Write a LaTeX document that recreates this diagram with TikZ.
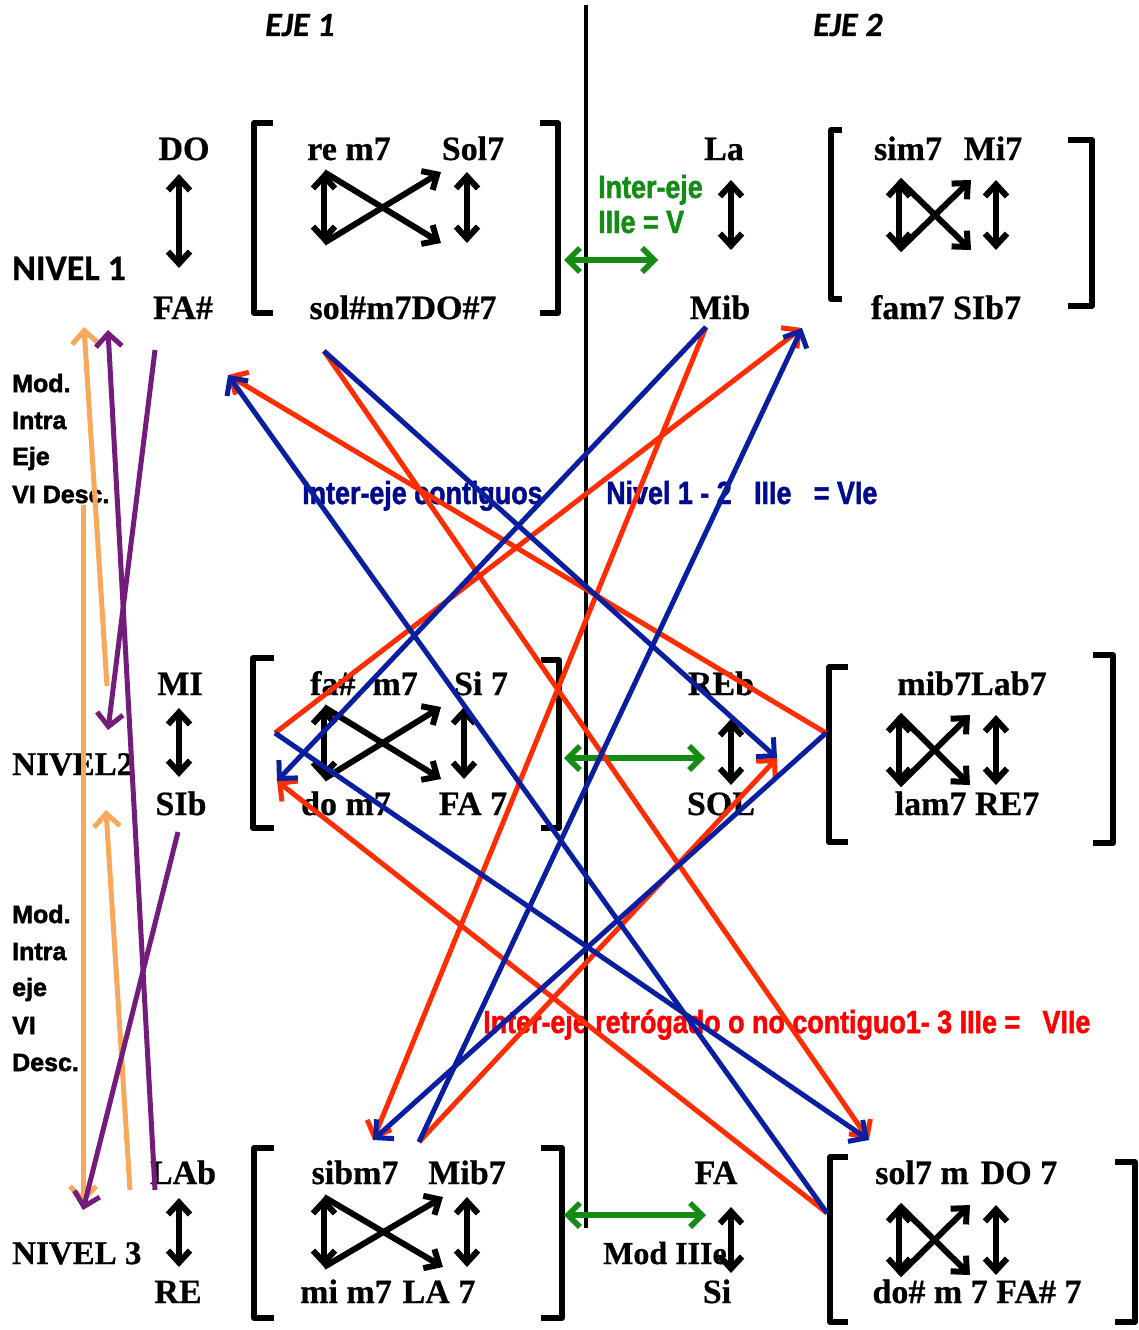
\documentclass[tikz,border=0pt]{standalone}
\usepackage{fontspec}
\setmainfont{Liberation Serif}[FakeBold=0.6]
\newfontfamily\calib{Carlito}[FakeBold=0.6]
\newfontfamily\cond{Liberation Sans}[FakeStretch=0.84,FakeBold=1.5]
\newfontfamily\wide{Liberation Sans}[FakeBold=2]
\usetikzlibrary{arrows.meta}
\definecolor{cblue}{RGB}{10,30,160}
\definecolor{tblue}{RGB}{0,10,140}
\definecolor{cred}{RGB}{255,45,0}
\definecolor{tred}{RGB}{255,0,0}
\definecolor{cgreen}{RGB}{20,140,20}
\definecolor{corange}{RGB}{248,168,90}
\definecolor{cpurple}{RGB}{116,28,124}
\newcommand\xcross[6]{%
  \coordinate (#6tl) at (#1,#4);
  \coordinate (#6bl) at (#1,#5);
  \coordinate (#6tr) at (#2,#4);
  \coordinate (#6br) at (#2,#5);
  \coordinate (#6dt) at (#3,#4);
  \coordinate (#6db) at (#3,#5);
  \draw[dbl] (#6tl) -- (#6bl);
  \draw[sgl] (#6tl) -- (#6br);
  \draw[sgl] (#6bl) -- (#6tr);
  \draw[dbl] (#6dt) -- (#6db);
}
\newcommand\lbrk[4]{\draw[brk] (#4,#2) -- (#1,#2) -- (#1,#3) -- (#4,#3);}
\begin{document}
\begin{tikzpicture}[x=1pt,y=-1pt,
  chord/.style={font=\fontsize{34}{40}\selectfont\bfseries, inner sep=0pt, anchor=base},
  lvl/.style={inner sep=0pt, anchor=base west},
  modt/.style={font=\wide\fontsize{25}{30}\selectfont\bfseries, inner sep=0pt, anchor=base west},
  ctext/.style={font=\cond\fontsize{32}{34}\selectfont\bfseries, inner sep=0pt, anchor=base west},
  dbl/.style={line width=6pt, black, {Straight Barb[length=12pt,width=22pt]}-{Straight Barb[length=12pt,width=22pt]}},
  sgl/.style={line width=6pt, black, -{Straight Barb[length=12pt,width=22pt]}},
  brk/.style={line width=5.5pt, black, line join=round},
  gdbl/.style={line width=5.5pt, cgreen, {Straight Barb[length=12pt,width=24pt]}-{Straight Barb[length=12pt,width=24pt]}},
  bl/.style={line width=5pt, cblue, -{Straight Barb[length=13pt,width=26pt]}},
  rd/.style={line width=5pt, cred, -{Straight Barb[length=13pt,width=26pt]}},
  og/.style={line width=5pt, corange, -{Straight Barb[length=13pt,width=26pt]}},
  pu/.style={line width=5pt, cpurple, -{Straight Barb[length=13pt,width=26pt]}},
]
\useasboundingbox[fill=white] (0,0) rectangle (1139,1330);

% headings
\node[lvl, font=\calib\fontsize{34}{40}\selectfont\bfseries\itshape] (eje1) at (265,36) {EJE 1};
\node[lvl, font=\calib\fontsize{34}{40}\selectfont\bfseries\itshape] (eje2) at (813,36) {EJE 2};

% level labels
\node[lvl, font=\calib\fontsize{36}{40}\selectfont\bfseries] (niv1) at (12,280) {NIVEL 1};
\node[lvl, font=\fontsize{33}{40}\selectfont\bfseries] (niv2) at (12,775) {NIVEL2};
\node[lvl, font=\fontsize{33}{40}\selectfont\bfseries] (niv3) at (12,1264) {NIVEL 3};

% Mod intra eje labels
\node[modt] (ma1) at (12,392) {Mod.};
\node[modt] (ma2) at (12,429) {Intra};
\node[modt] (ma3) at (12,465) {Eje};
\node[modt] (ma4) at (12,503) {VI Desc.};
\node[modt] (mb1) at (12,923) {Mod.};
\node[modt] (mb2) at (12,960) {Intra};
\node[modt] (mb3) at (12,996) {eje};
\node[modt] (mb4) at (12,1034) {VI};
\node[modt] (mb5) at (12,1071) {Desc.};

% chord labels level 1
\node[chord] (do) at (184,160) {DO};
\node[chord] (fas) at (183,319) {FA\#};
\node[chord] (rem7) at (349,160) {re m7};
\node[chord] (sol7) at (473,160) {Sol7};
\node[chord] (solsm7) at (403,319) {sol\#m7DO\#7};
\node[chord] (la) at (724,160) {La};
\node[chord] (mib) at (720,319) {Mib};
\node[chord] (sim7) at (908,160) {sim7};
\node[chord] (mi7) at (993,160) {Mi7};
\node[chord] (fam7) at (946,319) {fam7 SIb7};
% level 2
\node[chord] (mi) at (180,695) {MI};
\node[chord] (sib) at (181,815) {SIb};
\node[chord] (fasm7) at (364,695) {fa\#\ \ m7};
\node[chord] (si7) at (481,695) {Si 7};
\node[chord] (dom7) at (346,815) {do m7};
\node[chord] (fa7) at (473,815) {FA 7};
\node[chord] (reb) at (721,695) {REb};
\node[chord] (sol) at (721,815) {SOL};
\node[chord] (mib7) at (972,695) {mib7Lab7};
\node[chord] (lam7) at (967,815) {lam7 RE7};
% level 3
\node[chord] (lab) at (183,1184) {LAb};
\node[chord] (re) at (178,1303) {RE};
\node[chord] (sibm7) at (355,1184) {sibm7};
\node[chord] (mibs7) at (467,1184) {Mib7};
\node[chord] (mim7) at (346,1303) {mi m7};
\node[chord] (la7) at (439,1303) {LA 7};
\node[chord] (fa) at (716,1184) {FA};
\node[chord] (si) at (717,1303) {Si};
\node[chord] (sol7m) at (922,1184) {sol7 m};
\node[chord] (do7) at (1019,1184) {DO 7};
\node[chord] (dosm7) at (977,1303) {do\# m 7 FA\# 7};
\node[lvl, font=\fontsize{32}{40}\selectfont\bfseries] (modiii) at (603,1264) {Mod IIIe};

% coloured texts
\node[ctext, cgreen] (ie1) at (598,198) {Inter-eje};
\node[ctext, cgreen] (ie2) at (598,233) {IIIe = V};
\node[ctext, tblue] (contig) at (302,504) {Inter-eje contiguos};
\node[ctext, tblue] (niv12) at (606,504) {Nivel 1 - 2\ \ \ IIIe\ \ \ = VIe};
\node[ctext, tred] (retro) at (483,1033) {Inter-eje retrógado o no contiguo1- 3 IIIe =\ \ \ VIIe};

% central axis
\coordinate (axt) at (586,5);
\coordinate (axb) at (586,1228);
\draw[line width=4.5pt] (axt) -- (axb);

% brackets
\lbrk{254}{123}{313}{273}
\lbrk{558}{123}{313}{540}
\lbrk{831}{130}{299}{842}
\lbrk{1092}{140}{306}{1068}
\lbrk{253}{658}{828}{274}
\lbrk{559}{660}{828}{541}
\lbrk{829}{667}{842}{848}
\lbrk{1113}{655}{843}{1093}
\lbrk{254}{1148}{1318}{274}
\lbrk{562}{1148}{1318}{541}
\lbrk{830}{1157}{1322}{848}
\lbrk{1135}{1162}{1322}{1115}

% side double arrows
\coordinate (a1t) at (179,174); \coordinate (a1b) at (179,268);
\coordinate (a2t) at (179,708); \coordinate (a2b) at (179,777);
\coordinate (a3t) at (179,1198); \coordinate (a3b) at (179,1267);
\coordinate (b1t) at (731,180); \coordinate (b1b) at (731,250);
\coordinate (b2t) at (731,719); \coordinate (b2b) at (731,785);
\coordinate (b3t) at (731,1207); \coordinate (b3b) at (731,1273);
\draw[dbl] (a1t) -- (a1b);
\draw[dbl] (a2t) -- (a2b);
\draw[dbl] (a3t) -- (a3b);
\draw[dbl] (b1t) -- (b1b);
\draw[dbl] (b2t) -- (b2b);
\draw[dbl] (b3t) -- (b3b);

% inner cross arrows
\xcross{324}{441}{467}{172}{243}{g1}
\xcross{899}{971}{996}{180}{250}{g2}
\xcross{324}{441}{464}{707}{779}{g3}
\xcross{899}{970}{996}{715}{785}{g4}
\xcross{324}{443}{467}{1197}{1267}{g5}
\xcross{899}{970}{996}{1205}{1275}{g6}

% green inter-eje arrows
\coordinate (gr1a) at (564,260); \coordinate (gr1b) at (658,260);
\coordinate (gr2a) at (564,758); \coordinate (gr2b) at (705,758);
\coordinate (gr3a) at (564,1215); \coordinate (gr3b) at (706,1215);
\draw[gdbl] (gr1a) -- (gr1b);
\draw[gdbl] (gr2a) -- (gr2b);
\draw[gdbl] (gr3a) -- (gr3b);

% coloured connectors
\coordinate (pA) at (324,351);
\coordinate (pB) at (706,327);
\coordinate (pC) at (228,375);
\coordinate (pD) at (802,328);
\coordinate (pE) at (275,733);
\coordinate (pF) at (277,781);
\coordinate (pG) at (826,733);
\coordinate (pH) at (777,758);
\coordinate (pI) at (373,1140);
\coordinate (pJ) at (419,1142);
\coordinate (pK) at (869,1140);
\coordinate (pL) at (827,1213);

\draw[rd] (pA) -- (pK);
\draw[rd] (pB) -- (pI);
\draw[rd] (pJ) -- (pH);
\draw[rd] (pE) -- (pD);
\draw[rd] (pG) -- (pC);
\draw[rd] (pL) -- (pF);
\draw[bl] (pA) -- (pH);
\draw[bl] (pB) -- (pF);
\draw[bl] (pJ) -- (pD);
\draw[bl] (pG) -- (pI);
\draw[bl] (pL) -- (pC);
\draw[bl] (pE) -- (pK);

% left modulation arrows
\coordinate (o1s) at (107,686); \coordinate (o1e) at (84,327);
\coordinate (o2s) at (83,505); \coordinate (o2e) at (83,1203);
\coordinate (o3s) at (130,1190); \coordinate (o3e) at (106,810);
\coordinate (u1s) at (155,350); \coordinate (u1e) at (108,730);
\coordinate (u2s) at (155,1190); \coordinate (u2e) at (108,330);
\coordinate (u3s) at (178,832); \coordinate (u3e) at (83,1210);
\draw[og] (o1s) -- (o1e);
\draw[og] (o2s) -- (o2e);
\draw[og] (o3s) -- (o3e);
\draw[pu] (u1s) -- (u1e);
\draw[pu] (u2s) -- (u2e);
\draw[pu] (u3s) -- (u3e);
\end{tikzpicture}
\end{document}
